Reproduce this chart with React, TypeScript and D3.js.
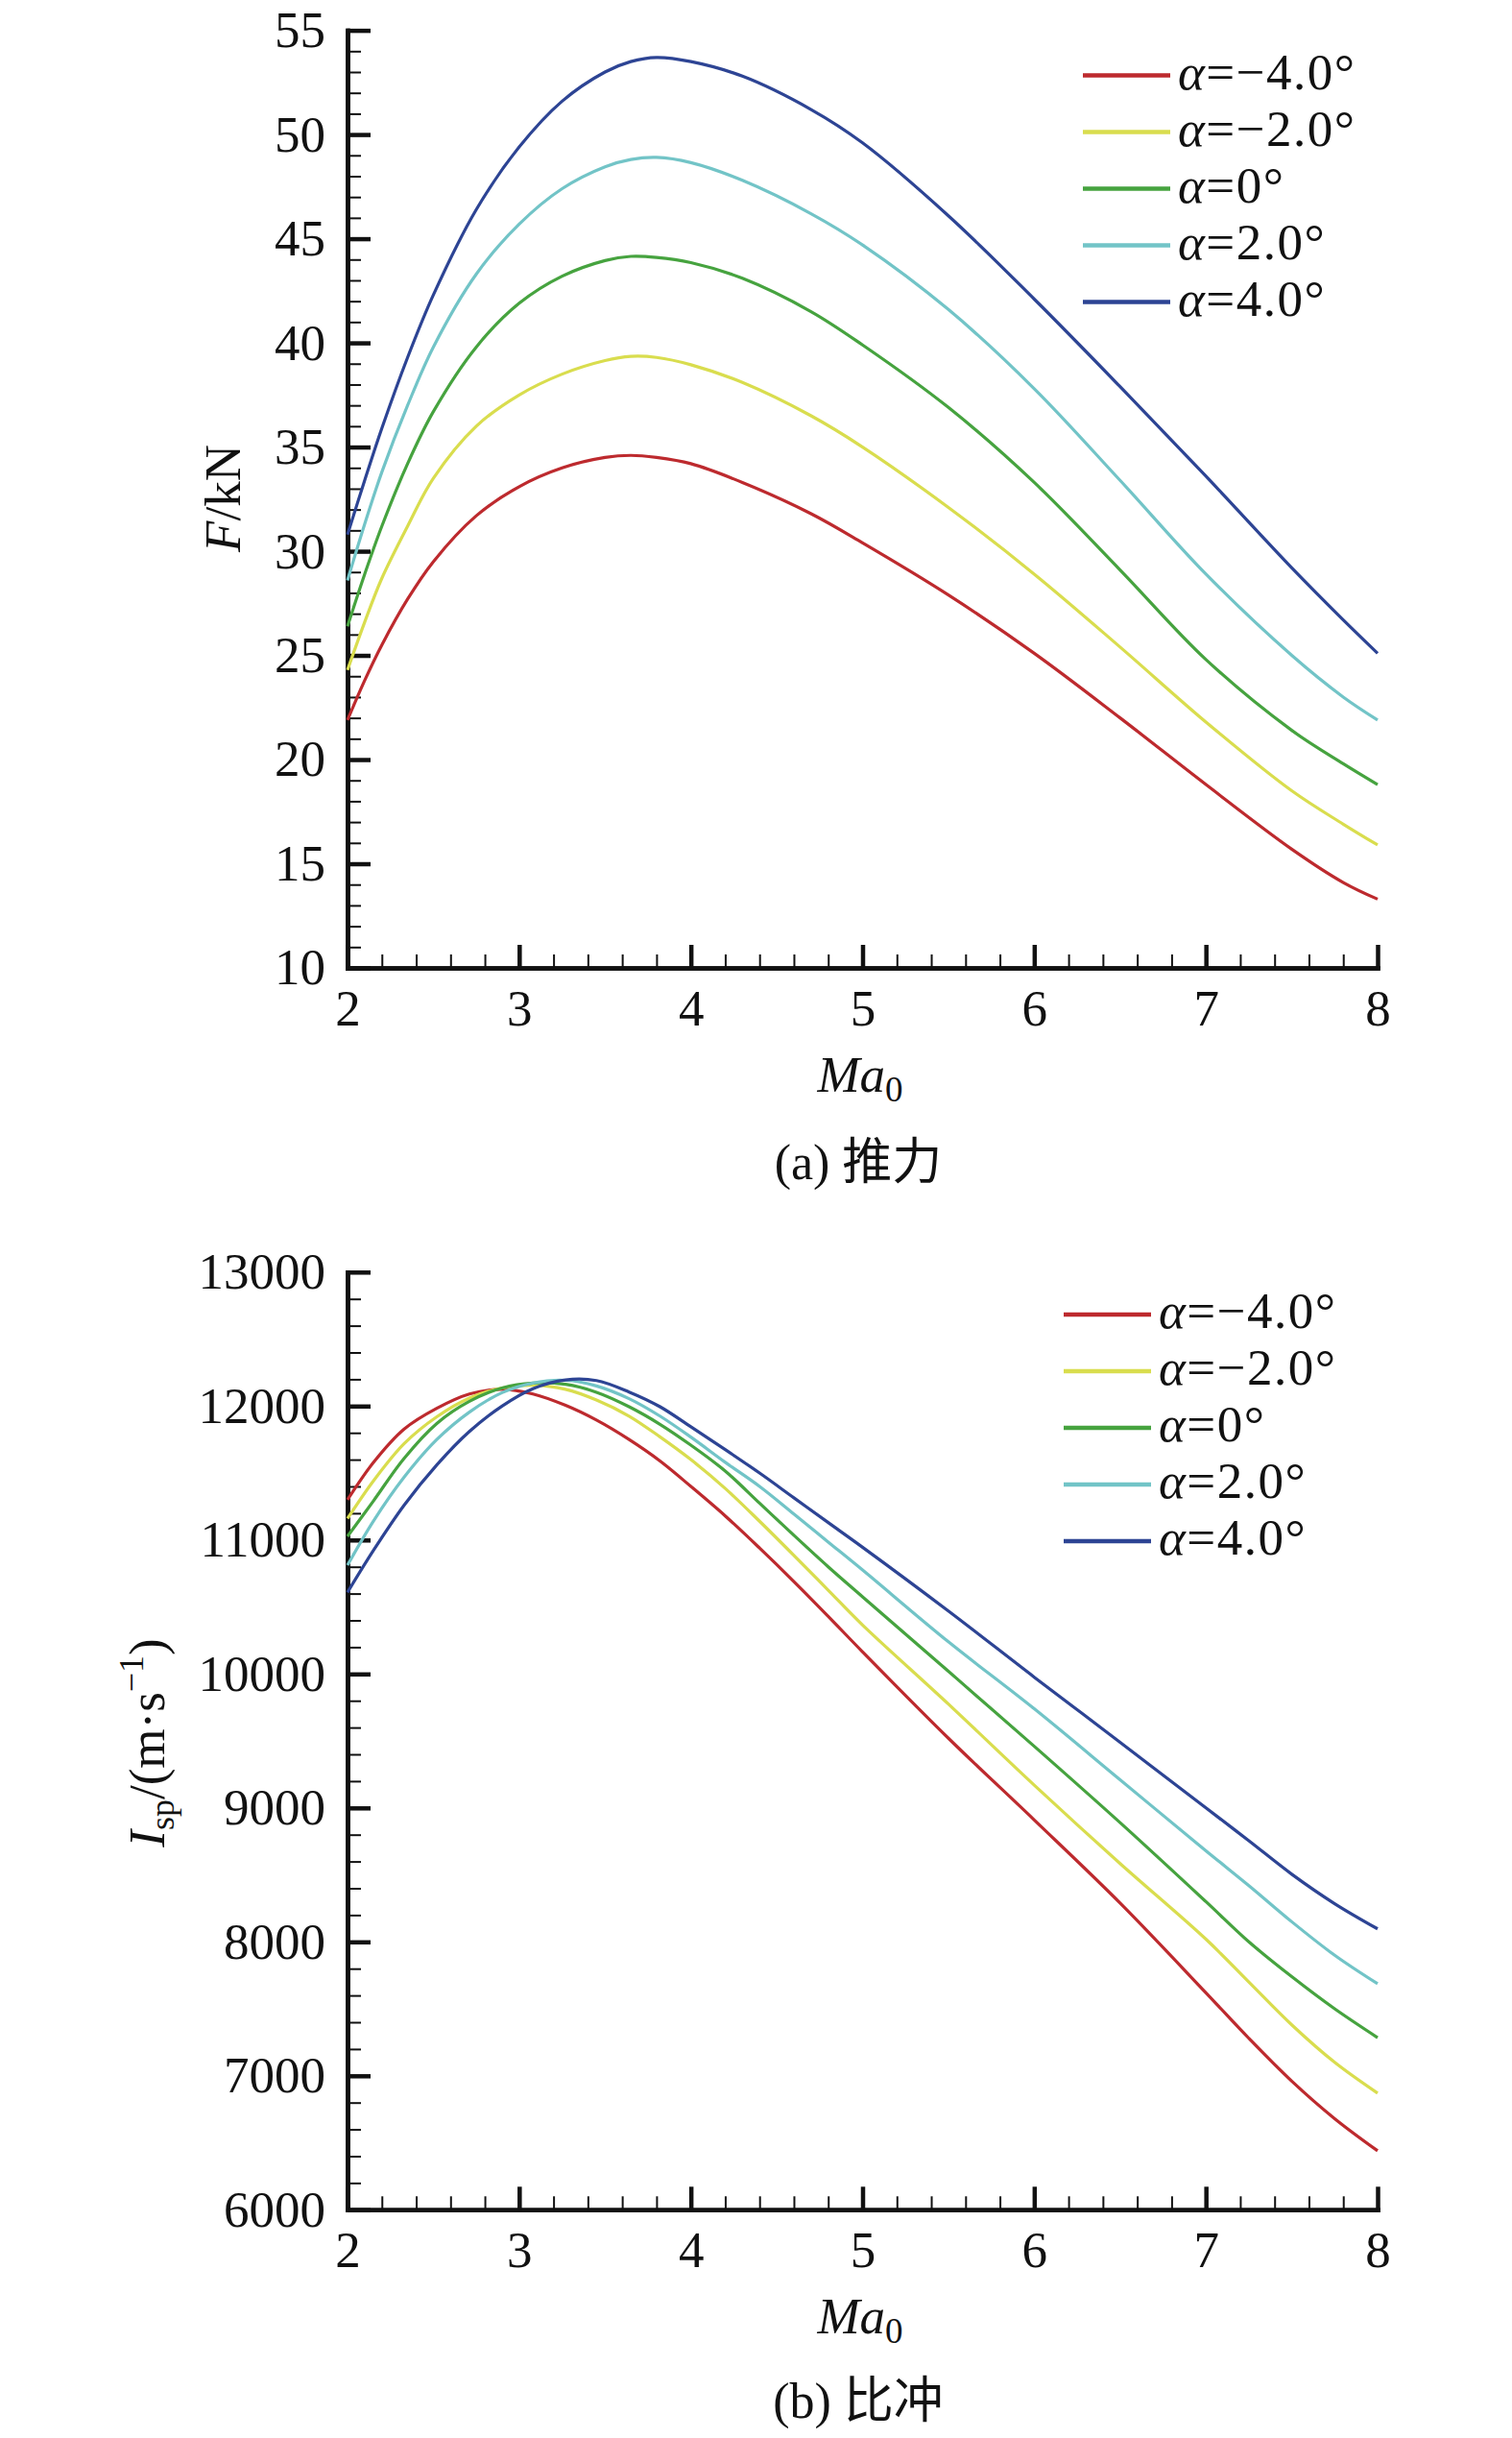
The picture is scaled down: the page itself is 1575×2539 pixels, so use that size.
import React, { useEffect, useRef } from "react";
import * as d3 from "d3";

// ---------- data ----------
const MA_THRUST = [2.0, 2.1, 2.2, 2.35, 2.5, 2.75, 3.0, 3.25, 3.5, 3.65, 3.8, 4.0, 4.3, 4.7, 5.0, 5.5, 6.0, 6.5, 7.0, 7.5, 7.8, 8.0];
const F_AOA_M4 = [21.9, 23.8, 25.5, 27.7, 29.5, 31.7, 33.1, 34.0, 34.5, 34.6, 34.5, 34.2, 33.3, 31.8, 30.4, 27.9, 25.1, 22.0, 18.8, 15.7, 14.1, 13.3];
const F_AOA_M2 = [24.3, 26.6, 28.7, 31.2, 33.5, 36.0, 37.5, 38.5, 39.15, 39.35, 39.3, 38.95, 38.1, 36.5, 35.0, 32.1, 28.9, 25.4, 21.8, 18.5, 16.9, 15.9];
const F_AOA_0 = [26.4, 28.9, 31.2, 34.2, 36.7, 39.8, 41.9, 43.2, 43.95, 44.15, 44.1, 43.85, 43.1, 41.5, 39.9, 36.9, 33.3, 29.1, 24.8, 21.4, 19.8, 18.8];
const F_AOA_2 = [28.6, 31.3, 33.8, 37.0, 39.8, 43.3, 45.7, 47.4, 48.45, 48.8, 48.9, 48.65, 47.8, 46.2, 44.7, 41.6, 37.8, 33.4, 28.9, 25.0, 23.0, 21.9];
const F_AOA_4 = [30.8, 33.4, 35.9, 39.3, 42.3, 46.4, 49.4, 51.6, 53.0, 53.5, 53.7, 53.5, 52.8, 51.2, 49.6, 46.1, 42.1, 37.9, 33.6, 29.2, 26.7, 25.1];

const MA_ISP = [2.0, 2.15, 2.33, 2.52, 2.71, 2.9, 3.08, 3.27, 3.45, 3.64, 3.82, 4.0, 4.2, 4.4, 4.6, 4.8, 5.0, 5.5, 6.0, 6.5, 7.0, 7.25, 7.5, 7.75, 8.0];
const ISP_AOA_M4 = [11300, 11577, 11828, 11983, 12090, 12125, 12090, 12005, 11895, 11750, 11590, 11400, 11180, 10940, 10690, 10430, 10165, 9520, 8910, 8290, 7620, 7280, 6960, 6680, 6440];
const ISP_AOA_M2 = [11160, 11440, 11720, 11920, 12060, 12135, 12155, 12125, 12045, 11925, 11770, 11600, 11385, 11140, 10885, 10625, 10365, 9775, 9170, 8585, 8020, 7700, 7380, 7100, 6870];
const ISP_AOA_0 = [11027, 11290, 11610, 11870, 12035, 12135, 12172, 12162, 12103, 11995, 11864, 11708, 11515, 11275, 11035, 10800, 10576, 10020, 9460, 8890, 8300, 8000, 7740, 7500, 7285];
const ISP_AOA_2 = [10812, 11140, 11470, 11750, 11955, 12100, 12172, 12192, 12150, 12055, 11925, 11768, 11580, 11400, 11194, 10985, 10776, 10240, 9740, 9210, 8680, 8420, 8150, 7900, 7687];
const ISP_AOA_4 = [10609, 10920, 11260, 11560, 11810, 12000, 12130, 12195, 12190, 12105, 11995, 11845, 11675, 11500, 11315, 11130, 10946, 10470, 9976, 9490, 9000, 8755, 8505, 8285, 8097];

const SERIES_LABELS = ["=\u22124.0\u00b0", "=\u22122.0\u00b0", "=0\u00b0", "=2.0\u00b0", "=4.0\u00b0"];
const SERIES_COLORS = ["#BD2A2E", "#D9DD4E", "#46A33F", "#72C4C7", "#2D4494"];

const X_TICKS = [2, 3, 4, 5, 6, 7, 8];
const F_TICKS = [10, 15, 20, 25, 30, 35, 40, 45, 50, 55];
const ISP_TICKS = [6000, 7000, 8000, 9000, 10000, 11000, 12000, 13000];

// ---------- layout ----------
const W = 1575;
const H = 2539;
const SERIF = "'Liberation Serif','Times New Roman',Times,'Noto Sans CJK SC',serif";
const X0 = 362;
const X1 = 1435;

type Panel = {
  ma: number[];
  series: number[][];
  domain: [number, number];
  yTop: number;
  yBot: number;
  majors: number[];
  minorStep: number;
  legendX: number;
  legendY: number;
};

function drawPanel(svg: d3.Selection<SVGSVGElement, unknown, null, undefined>, p: Panel) {
  const x = d3.scaleLinear().domain([2, 8]).range([X0, X1]);
  const y = d3.scaleLinear().domain(p.domain).range([p.yBot, p.yTop]);
  const g = svg.append("g");

  const styleAxis = (a: d3.Selection<SVGGElement, unknown, null, undefined>, major: boolean) => {
    a.attr("color", "#111");
    a.selectAll(".domain").attr("stroke-width", 4.5).attr("stroke-linecap", "square");
    a.selectAll(".tick line").attr("stroke-width", major ? 4.5 : 2);
    a.selectAll(".tick text").attr("font-family", SERIF).attr("font-size", 53).attr("fill", "#111");
  };

  // minor x ticks
  const xMinor = d3.range(0, 31).map((i) => 2 + i * 0.2);
  const gxm = g.append("g").attr("transform", `translate(0,${p.yBot})`);
  gxm.call(d3.axisBottom(x).tickValues(xMinor).tickSize(-14).tickSizeOuter(0).tickFormat(() => ""));
  styleAxis(gxm, false);
  // major x ticks
  const gx = g.append("g").attr("transform", `translate(0,${p.yBot})`);
  gx.call(d3.axisBottom(x).tickValues(X_TICKS).tickSize(-24).tickSizeOuter(0).tickPadding(22).tickFormat(d3.format("d")));
  styleAxis(gx, true);

  // minor y ticks
  const nMinor = Math.round((p.domain[1] - p.domain[0]) / p.minorStep);
  const yMinor = d3.range(0, nMinor + 1).map((i) => p.domain[0] + i * p.minorStep);
  const gym = g.append("g").attr("transform", `translate(${X0},0)`);
  gym.call(d3.axisLeft(y).tickValues(yMinor).tickSize(-14).tickSizeOuter(0).tickFormat(() => ""));
  styleAxis(gym, false);
  const gy = g.append("g").attr("transform", `translate(${X0},0)`);
  gy.call(d3.axisLeft(y).tickValues(p.majors).tickSize(-24).tickSizeOuter(0).tickPadding(23).tickFormat(d3.format("d")));
  styleAxis(gy, true);

  // curves
  const line = d3
    .line<[number, number]>()
    .x((d) => x(d[0]))
    .y((d) => y(d[1]))
    .curve(d3.curveCatmullRom.alpha(0.5));
  p.series.forEach((vals, i) => {
    const pts: [number, number][] = p.ma.map((m, j) => [m, vals[j]]);
    g.append("path")
      .attr("d", line(pts) as string)
      .attr("fill", "none")
      .attr("stroke", SERIES_COLORS[i])
      .attr("stroke-width", 3.2)
      .attr("stroke-linejoin", "round");
  });

  // legend
  const lg = g.append("g");
  SERIES_LABELS.forEach((lab, i) => {
    const ry = p.legendY + i * 59;
    lg.append("line")
      .attr("x1", p.legendX)
      .attr("x2", p.legendX + 91)
      .attr("y1", ry)
      .attr("y2", ry)
      .attr("stroke", SERIES_COLORS[i])
      .attr("stroke-width", 4.5);
    const t = lg
      .append("text")
      .attr("x", p.legendX + 99)
      .attr("y", ry + 14)
      .attr("font-family", SERIF)
      .attr("font-size", 53)
      .attr("letter-spacing", 1.5)
      .attr("fill", "#111");
    t.append("tspan").attr("font-style", "italic").text("\u03b1");
    t.append("tspan").text(lab);
  });
}

export default function App() {
  const ref = useRef<SVGSVGElement>(null);

  useEffect(() => {
    if (!ref.current) return;
    const svg = d3.select(ref.current);
    svg.selectAll("*").remove();
    svg.append("rect").attr("width", W).attr("height", H).attr("fill", "#fff");

    drawPanel(svg, {
      ma: MA_THRUST,
      series: [F_AOA_M4, F_AOA_M2, F_AOA_0, F_AOA_2, F_AOA_4],
      domain: [10, 55],
      yTop: 31.6,
      yBot: 1008,
      majors: F_TICKS,
      minorStep: 1,
      legendX: 1128,
      legendY: 78.5,
    });
    drawPanel(svg, {
      ma: MA_ISP,
      series: [ISP_AOA_M4, ISP_AOA_M2, ISP_AOA_0, ISP_AOA_2, ISP_AOA_4],
      domain: [6000, 13000],
      yTop: 1324.8,
      yBot: 2301.3,
      majors: ISP_TICKS,
      minorStep: 200,
      legendX: 1108,
      legendY: 1369,
    });

    // axis titles
    const txt = (xx: number, yy: number, rot = 0) =>
      svg
        .append("text")
        .attr("transform", `translate(${xx},${yy}) rotate(${rot})`)
        .attr("text-anchor", "middle")
        .attr("font-family", SERIF)
        .attr("font-size", 53)
        .attr("fill", "#111");

    // top Y title
    const fy = txt(250, 519, -90);
    fy.append("tspan").attr("font-style", "italic").text("F");
    fy.append("tspan").text("/kN");

    // bottom Y title
    const iy = txt(171, 1815, -90);
    iy.append("tspan").attr("font-style", "italic").text("I");
    iy.append("tspan").attr("font-size", 36).attr("dy", 10).text("sp");
    iy.append("tspan").attr("dy", -10).text("/(m\u00b7s");
    iy.append("tspan").attr("font-size", 36).attr("dy", -22).text("\u22121");
    iy.append("tspan").attr("dy", 22).text(")");

    // X titles
    [1137, 2430].forEach((by) => {
      const t = txt(896, by);
      t.append("tspan").attr("font-style", "italic").text("Ma");
      t.append("tspan").attr("font-size", 37).attr("dy", 10).text("0");
    });

    // captions
    txt(894, 1228).attr("font-size", 52).text("(a) 推力");
    txt(894, 2518).attr("font-size", 52).text("(b) 比冲");
  }, []);

  return (
    <svg
      ref={ref}
      width={W}
      height={H}
      viewBox={`0 0 ${W} ${H}`}
      style={{ position: "absolute", left: 0, top: 0, display: "block" }}
    />
  );
}
